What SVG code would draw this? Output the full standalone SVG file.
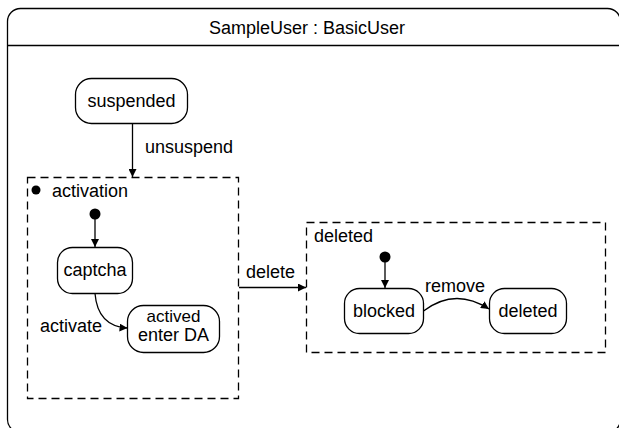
<svg xmlns="http://www.w3.org/2000/svg" width="619" height="428" viewBox="0 0 619 428">
<defs>
<marker id="arr" viewBox="0 0 10 10" refX="10" refY="5" markerWidth="8" markerHeight="8" markerUnits="userSpaceOnUse" orient="auto">
<path d="M0,0 L10,5 L0,10 z" fill="#000"/>
</marker>
<style>
text{font-family:"Liberation Sans",Arial,sans-serif;font-size:18px;fill:#000}
.st{fill:#fff;stroke:#000;stroke-width:1.3}
.comp{fill:none;stroke:#000;stroke-width:1.3;stroke-dasharray:8 5}
.edge{fill:none;stroke:#000;stroke-width:1.3}
.c{text-anchor:middle}
.sm{font-size:17px}
</style>
</defs>
<rect width="619" height="428" fill="#fff"/>
<g id="frame">
<rect x="7.5" y="8.5" width="613" height="424" rx="13" fill="none" stroke="#000" stroke-width="1.3"/>
<line x1="7.5" y1="45.5" x2="620.5" y2="45.5" stroke="#000" stroke-width="1.3"/>
<text x="307" y="34" class="c">SampleUser : BasicUser</text>
</g>
<g id="activation">
<rect class="comp" x="27.5" y="177.5" width="211" height="221"/>
<circle cx="36" cy="190" r="4.5"/>
<text x="52" y="197">activation</text>
<circle cx="95" cy="214" r="5.5"/>
</g>
<g id="deletedComposite">
<rect class="comp" x="306.5" y="222.5" width="299" height="130"/>
<text x="314" y="242">deleted</text>
<circle cx="385" cy="257" r="5.5"/>
</g>
<g id="suspended">
<rect class="st" x="75.5" y="78.5" width="112" height="45" rx="16"/>
<text x="131.5" y="107" class="c">suspended</text>
</g>
<g id="captcha">
<rect class="st" x="57.5" y="247.5" width="75" height="46" rx="15"/>
<text x="95" y="276" class="c">captcha</text>
</g>
<g id="actived">
<rect class="st" x="127.5" y="305.5" width="92" height="47" rx="16"/>
<text x="173.5" y="322" class="c sm">actived</text>
<text x="173.5" y="341" class="c">enter DA</text>
</g>
<g id="blocked">
<rect class="st" x="344.5" y="288.5" width="79" height="45" rx="15"/>
<text x="384" y="317" class="c">blocked</text>
</g>
<g id="deleted">
<rect class="st" x="489.5" y="288.5" width="77" height="45" rx="15"/>
<text x="528" y="317" class="c">deleted</text>
</g>
<g id="connectors">
<path class="edge" d="M132.5,123.5 L132.5,177" marker-end="url(#arr)"/>
<text x="145" y="153">unsuspend</text>
<path class="edge" d="M95,219 L95,247" marker-end="url(#arr)"/>
<path class="edge" d="M95,293.5 C97,318 110,327 127.5,328" marker-end="url(#arr)"/>
<text x="40" y="332">activate</text>
<path class="edge" d="M239,287.5 L306,287.5" marker-end="url(#arr)"/>
<text x="246" y="278">delete</text>
<path class="edge" d="M385,262 L385,288" marker-end="url(#arr)"/>
<path class="edge" d="M423.5,311 Q455,287 489,309" marker-end="url(#arr)"/>
<text x="425" y="292">remove</text>
</g>
</svg>
